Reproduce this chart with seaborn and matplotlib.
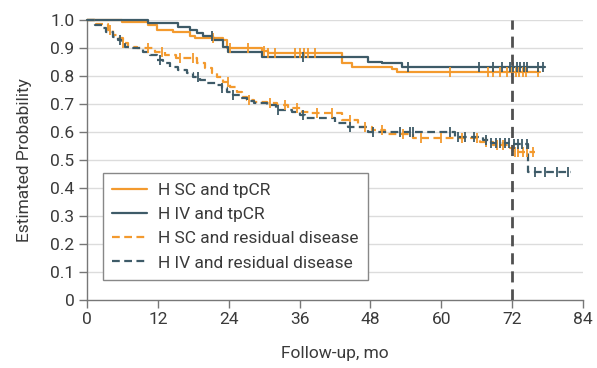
import numpy as np
import pandas as pd
import seaborn as sns
import matplotlib
matplotlib.use("Agg")
import matplotlib.pyplot as plt
from matplotlib.ticker import FuncFormatter, MultipleLocator
from matplotlib.lines import Line2D

# Kaplan-Meier step curves: times (months) where the estimate changes, and the
# estimate from that time on. Censoring times are listed separately.
sc_pcr_t = [0, 5.9, 10.4, 11.8, 14.6, 17.4, 18.3, 23.0, 23.7, 29.6, 30.7, 43.2, 44.9, 51.6, 52.5, 76.7]
sc_pcr_s = [1.0, 0.992, 0.982, 0.964, 0.956, 0.943, 0.935, 0.929, 0.899, 0.889, 0.881, 0.845, 0.833, 0.824, 0.814, 0.814]
sc_pcr_cens = [21.4, 24.2, 27.3, 30.0, 30.7, 31.8, 35.2, 36.0, 36.8, 37.5, 38.6, 61.5, 67.9, 68.8,
               69.9, 71.1, 72.0, 72.6, 73.2, 73.8, 74.4, 76.4]

iv_pcr_t = [0, 10.3, 15.4, 17.4, 18.6, 19.7, 21.4, 23.0, 23.9, 29.6, 47.6, 50.0, 53.3, 77.6]
iv_pcr_s = [1.0, 0.988, 0.976, 0.964, 0.952, 0.944, 0.929, 0.905, 0.887, 0.869, 0.851, 0.845, 0.833, 0.833]
iv_pcr_cens = [21.2, 36.5, 54.4, 66.4, 68.8, 70.2, 71.6, 72.2, 72.8, 73.4, 74.0, 74.5, 76.4, 77.2]

sc_rd_t = [0, 1.5, 3.6, 4.4, 5.3, 6.1, 7.0, 8.5, 11.5, 13.2, 15.0, 18.6, 20.0, 21.2, 22.0, 23.0,
           24.2, 25.4, 26.2, 27.1, 28.2, 30.5, 32.2, 34.0, 36.4, 38.0, 43.2, 45.9, 48.3, 50.5,
           55.2, 66.6, 68.8, 71.6, 72.2, 75.9]
sc_rd_s = [1.0, 0.985, 0.964, 0.946, 0.935, 0.917, 0.905, 0.899, 0.887, 0.875, 0.866, 0.845, 0.827,
           0.810, 0.798, 0.780, 0.762, 0.744, 0.726, 0.714, 0.707, 0.702, 0.696, 0.685, 0.673,
           0.667, 0.643, 0.619, 0.607, 0.592, 0.577, 0.565, 0.554, 0.542, 0.530, 0.530]
sc_rd_cens = [3.9, 6.1, 10.3, 12.7, 15.7, 18.0, 23.9, 27.5, 31.0, 33.5, 35.5, 39.0, 41.5, 44.5,
              47.0, 50.0, 53.5, 56.5, 60.0, 63.5, 66.0, 67.5, 69.5, 70.5, 72.5, 73.0, 73.8, 74.6, 75.5]

iv_rd_t = [0, 1.4, 2.7, 3.3, 4.4, 5.3, 5.9, 6.4, 7.3, 9.5, 10.7, 11.8, 12.9, 14.1, 15.4, 16.9,
           18.0, 19.1, 20.3, 22.0, 22.9, 23.7, 24.7, 25.9, 27.1, 28.2, 30.5, 32.0, 34.7, 36.1,
           36.9, 42.0, 44.2, 47.6, 62.3, 67.0, 68.5, 71.8, 74.7, 82.0]
iv_rd_s = [1.0, 0.982, 0.970, 0.958, 0.940, 0.929, 0.917, 0.905, 0.899, 0.887, 0.875, 0.857,
           0.845, 0.833, 0.821, 0.810, 0.798, 0.786, 0.774, 0.768, 0.756, 0.744, 0.732, 0.720,
           0.711, 0.702, 0.696, 0.679, 0.673, 0.661, 0.649, 0.631, 0.619, 0.601, 0.583, 0.571,
           0.562, 0.556, 0.458, 0.458]
iv_rd_cens = [5.6, 12.4, 18.8, 22.9, 24.7, 32.3, 36.6, 44.5, 48.5, 53.0, 54.7, 55.2, 61.5, 62.8,
              64.0, 65.5, 67.5, 68.5, 69.3, 70.0, 70.8, 71.5, 72.3, 73.0, 73.7, 74.5, 75.9, 77.6,
              79.6, 81.5]

labels = ["H SC and tpCR", "H IV and tpCR", "H SC and residual disease", "H IV and residual disease"]

ORANGE = "#F39A2E"
SLATE = "#3E5B68"
TEXT = "#3a3a3a"
FS = 12.5

sns.set_theme(style="white")
plt.rcParams["font.family"] = ["Roboto", "DejaVu Sans"]

fig = plt.figure(figsize=(5.97, 3.68), dpi=100)
ax = fig.add_axes([87 / 597, 68 / 368, 496 / 597, 280 / 368])

curves = [
    (sc_pcr_t, sc_pcr_s, sc_pcr_cens, ORANGE, "-"),
    (iv_pcr_t, iv_pcr_s, iv_pcr_cens, SLATE, "-"),
    (sc_rd_t, sc_rd_s, sc_rd_cens, ORANGE, (0, (3.5, 2))),
    (iv_rd_t, iv_rd_s, iv_rd_cens, SLATE, (0, (3.5, 2))),
]

# horizontal reference grid
for yv in np.arange(0.1, 1.01, 0.1):
    ax.axhline(yv, color="#dcdcdc", lw=1.0, zorder=0)

handles = []
for (t, s, cens, color, ls), lab in zip(curves, labels):
    df = pd.DataFrame({"time": t, "prob": s})
    sns.lineplot(data=df, x="time", y="prob", ax=ax, color=color, linestyle=ls, lw=1.6,
                 drawstyle="steps-post", estimator=None, sort=False, clip_on=False, zorder=3)
    t_arr = np.asarray(t)
    s_arr = np.asarray(s)
    idx = np.searchsorted(t_arr, np.asarray(cens), side="right") - 1
    cdf = pd.DataFrame({"time": cens, "prob": s_arr[idx]})
    sns.scatterplot(data=cdf, x="time", y="prob", ax=ax, marker="|", color=color, s=45,
                    linewidth=1.3, zorder=4, legend=False)
    handles.append(Line2D([], [], color=color, linestyle=ls, lw=1.6, label=lab))

# landmark at 72 months
ax.axvline(72, color="#505050", lw=2.0, linestyle=(0, (4, 2.5)), zorder=5)

ax.set_xlim(0, 84)
ax.set_ylim(0, 1.0)
ax.xaxis.set_major_locator(MultipleLocator(12))
ax.yaxis.set_major_locator(MultipleLocator(0.1))
ax.yaxis.set_major_formatter(FuncFormatter(lambda v, p: "0" if abs(v) < 1e-9 else f"{v:.1f}"))

for side in ["top", "right"]:
    ax.spines[side].set_visible(False)
for side in ["left", "bottom"]:
    ax.spines[side].set_color("#777777")
    ax.spines[side].set_linewidth(1.0)

ax.tick_params(axis="both", which="major", direction="out", length=6, width=1.0,
               color="#777777", labelsize=FS, labelcolor=TEXT, pad=3,
               left=True, bottom=True)
ax.set_xlabel("Follow-up, mo", fontsize=FS, color=TEXT, labelpad=13)
ax.set_ylabel("Estimated Probability", fontsize=FS, color=TEXT, labelpad=13)

leg = ax.legend(handles=handles, loc="lower left", bbox_to_anchor=(0.032, 0.071),
                frameon=True, fancybox=False, framealpha=1, edgecolor="#888888",
                fontsize=FS, handlelength=2.0, labelspacing=0.52, borderpad=0.55,
                handletextpad=0.6, borderaxespad=0)
leg.get_frame().set_linewidth(1.0)
for txt in leg.get_texts():
    txt.set_color(TEXT)

fig.savefig("out.png", dpi=100)
